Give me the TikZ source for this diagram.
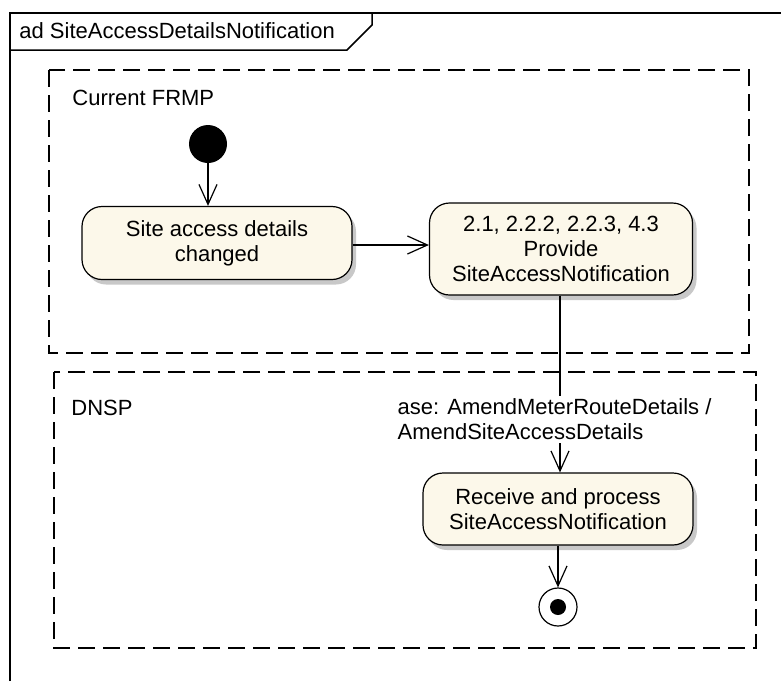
\documentclass[tikz,border=0pt]{standalone}
\usepackage{fontspec}
\setmainfont{Liberation Sans}
\usetikzlibrary{arrows.meta,shadows}
\definecolor{adcream}{RGB}{252,248,234}
\definecolor{adshadow}{RGB}{200,200,200}

\begin{document}
\begin{tikzpicture}[x=0.5pt, y=-0.5pt, font=\fontsize{11}{12.5}\selectfont,
    action/.style={draw, rectangle, rounded corners=10pt, fill=adcream, line width=0.6pt, align=center,
      drop shadow={shadow xshift=2pt, shadow yshift=-2.5pt, fill=adshadow, opacity=1}},
    partition/.style={draw, line width=0.7pt, dash pattern=on 8.5pt off 4pt},
    flow/.style={-{Straight Barb[length=10pt, width=9pt]}, line width=0.6pt}]
  % Page
  \fill[white] (0,0) rectangle (781,681);
  \useasboundingbox (0,0) rectangle (781,681);

  % Frame and its tab
  \draw[line width=0.75pt] (10,681) -- (10,13) -- (781,13);
  \draw[line width=0.75pt] (10,50) -- (347,50) -- (372,25) -- (372,13);
  \node[anchor=west, inner sep=0] (title) at (19,31) {ad SiteAccessDetailsNotification};

  % Partitions
  \draw[partition] (49,70) rectangle (749,353);
  \node[anchor=west, inner sep=0] (frmp) at (72,98) {Current FRMP};
  \draw[partition] (54,372) rectangle (756,648);
  \node[anchor=west, inner sep=0] (dnsp) at (71,408) {DNSP};

  % Actions
  \node[circle, fill=black, minimum size=19pt, inner sep=0] (init) at (208,144) {};
  \node[action, minimum width=135pt, minimum height=36.5pt] (site) at (217,243) {Site access details\\changed};
  \node[action, minimum width=131.5pt, minimum height=46pt] (prov) at (561,249) {2.1, 2.2.2, 2.2.3, 4.3\\Provide\\SiteAccessNotification};
  \node[action, minimum width=135pt, minimum height=36pt] (recv) at (558,509) {Receive and process\\SiteAccessNotification};
  \node[circle, draw, line width=0.6pt, fill=white, minimum size=19pt, inner sep=0] (final) at (558,607) {};
  \node[circle, fill=black, minimum size=8pt, inner sep=0] (finaldot) at (final) {};

  % Flows
  \draw[flow] (init) -- (init |- site.north);
  \draw[flow] (site.east |- 0,245) -- (prov.west |- 0,245);
  \draw[flow] (prov.south -| 560,0) -- (recv.north -| 560,0)
    node[pos=0.7, anchor=west, xshift=-83pt, fill=white, align=left, inner sep=1.5pt] (guard) {ase: AmendMeterRouteDetails /\\AmendSiteAccessDetails};
  \draw[flow] (recv) -- (final);
\end{tikzpicture}
\end{document}
